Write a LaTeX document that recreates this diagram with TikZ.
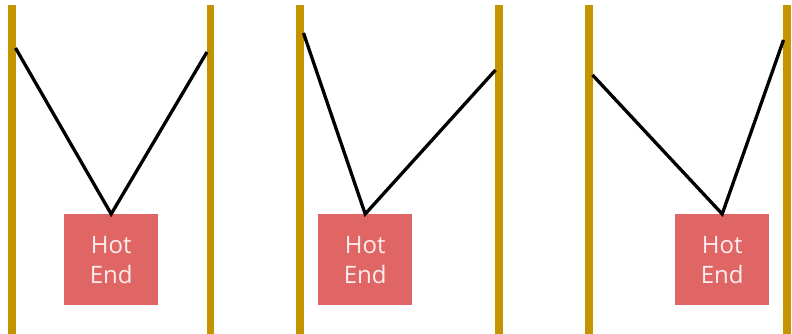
\documentclass[tikz,border=0pt]{standalone}
\usepackage{fontspec}
\setmainfont{Open Sans}
\definecolor{gold}{HTML}{C49300}
\definecolor{hotred}{HTML}{E06666}
\definecolor{hottext}{HTML}{FCEEEE}
\tikzset{
  bar/.style={draw=gold, line width=7.5pt},
  wire/.style={draw=black, line width=3.3pt, line join=miter},
  hotbox/.style={fill=hotred, minimum width=94pt, minimum height=91pt, inner sep=0pt,
     text=hottext, font=\fontsize{24}{30}\selectfont, align=center, anchor=north west},
}
\begin{document}
\begin{tikzpicture}[x=1pt,y=-1pt]
\useasboundingbox (0,0) rectangle (792,334);
% bars
\foreach \n/\x in {a/12,b/210.5,c/300,d/499,e/589,f/787}{
  \coordinate (\n top) at (\x,5.3);
  \coordinate (\n bot) at (\x,334);
  \draw[bar] (\n top) -- (\n bot);
}
% boxes
\node[hotbox] (h1) at (64,214) {Hot\\End};
\node[hotbox] (h2) at (318,214) {Hot\\End};
\node[hotbox] (h3) at (675,214) {Hot\\End};
% wire ends
\coordinate (l1) at (15.5,48);
\coordinate (r1) at (207,52);
\coordinate (l2) at (303.5,33);
\coordinate (r2) at (495.5,70);
\coordinate (l3) at (592.5,75);
\coordinate (r3) at (783.5,40);
\draw[wire] (l1) -- (h1.north) -- (r1);
\draw[wire] (l2) -- (h2.north) -- (r2);
\draw[wire] (l3) -- (h3.north) -- (r3);
\end{tikzpicture}
\end{document}
